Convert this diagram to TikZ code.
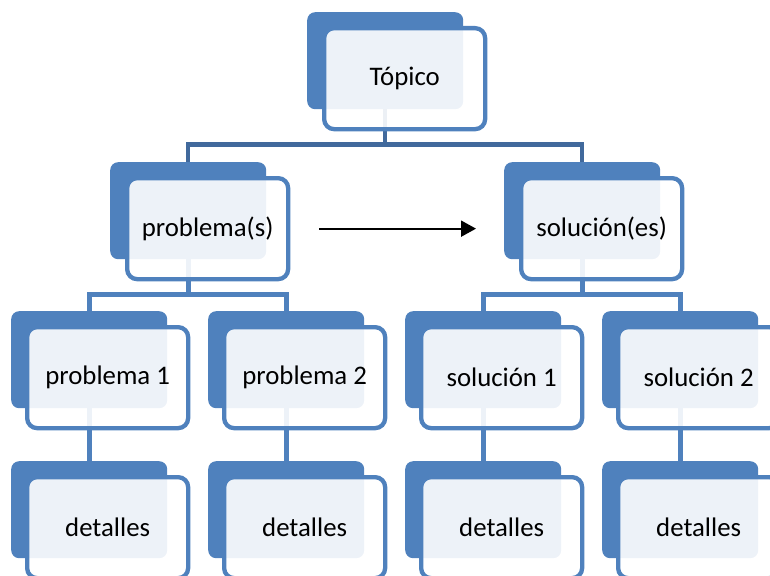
\documentclass[tikz,border=0pt]{standalone}
\usepackage{fontspec}
\setmainfont{Carlito}
\usetikzlibrary{arrows.meta,backgrounds}
\definecolor{accent}{HTML}{4F81BD}
\definecolor{accentdark}{HTML}{41699C}

\begin{document}
\begin{tikzpicture}[x=1pt,y=-1pt,
  backbox/.style={fill=accent, draw=none, rounded corners=8pt,
    minimum width=156pt, minimum height=97pt, inner sep=0pt, anchor=north west},
  frontbox/.style={draw=accent, line width=4.3pt, fill=white, fill opacity=0.9,
    text opacity=1, rounded corners=10pt, minimum width=161pt, minimum height=101pt,
    inner sep=0pt, anchor=north west, font=\fontsize{26.8}{30}\selectfont},
  conn/.style={draw=accent, line width=4.8pt},
  topconn/.style={draw=accentdark, line width=4.5pt},
  flow/.style={draw=black, line width=2pt, -{Triangle[length=15pt,width=16pt]}},
]
\useasboundingbox (0,0) rectangle (770,575);

% level 0
\node[backbox] (t) at (307,12) {};
\node[frontbox] (tf) at ([shift={(15,14)}]t.north west) {Tópico};

% level 1
\node[backbox] (p) at (110,162) {};
\node[frontbox] (pf) at ([shift={(15,14)}]p.north west) {problema(s)};
\node[backbox] (s) at (504,162) {};
\node[frontbox] (sf) at ([shift={(15,14)}]s.north west) {solución(es)};

% level 2
\node[backbox] (p1) at (11,311) {};
\node[frontbox] (p1f) at ([shift={(14,14)}]p1.north west) {problema 1};
\node[backbox] (p2) at (208,311) {};
\node[frontbox] (p2f) at ([shift={(14,14)}]p2.north west) {problema 2};
\node[backbox] (s1) at (405,311) {};
\node[frontbox] (s1f) at ([shift={(14,14)}]s1.north west) {solución 1};
\node[backbox] (s2) at (602,311) {};
\node[frontbox] (s2f) at ([shift={(14,14)}]s2.north west) {solución 2};

% level 3
\node[backbox] (d1) at (11,461) {};
\node[frontbox] (d1f) at ([shift={(14,14)}]d1.north west) {detalles};
\node[backbox] (d2) at (208,461) {};
\node[frontbox] (d2f) at ([shift={(14,14)}]d2.north west) {detalles};
\node[backbox] (d3) at (405,461) {};
\node[frontbox] (d3f) at ([shift={(14,14)}]d3.north west) {detalles};
\node[backbox] (d4) at (602,461) {};
\node[frontbox] (d4f) at ([shift={(14,14)}]d4.north west) {detalles};

% connectors behind the boxes
\begin{pgfonlayer}{background}
  \draw[topconn] (t.south) -- ++(0,35) -| (p.north);
  \draw[topconn] (t.south) -- ++(0,35) -| (s.north);
  \draw[conn] (p.south) -- ++(0,35) -| (p1.north);
  \draw[conn] (p.south) -- ++(0,35) -| (p2.north);
  \draw[conn] (s.south) -- ++(0,35) -| (s1.north);
  \draw[conn] (s.south) -- ++(0,35) -| (s2.north);
  \draw[conn] (p1.south) -- (d1.north);
  \draw[conn] (p2.south) -- (d2.north);
  \draw[conn] (s1.south) -- (d3.north);
  \draw[conn] (s2.south) -- (d4.north);
\end{pgfonlayer}

\draw[flow, shorten <=29pt, shorten >=43pt] (pf.east) -- (sf.west);
\end{tikzpicture}
\end{document}
